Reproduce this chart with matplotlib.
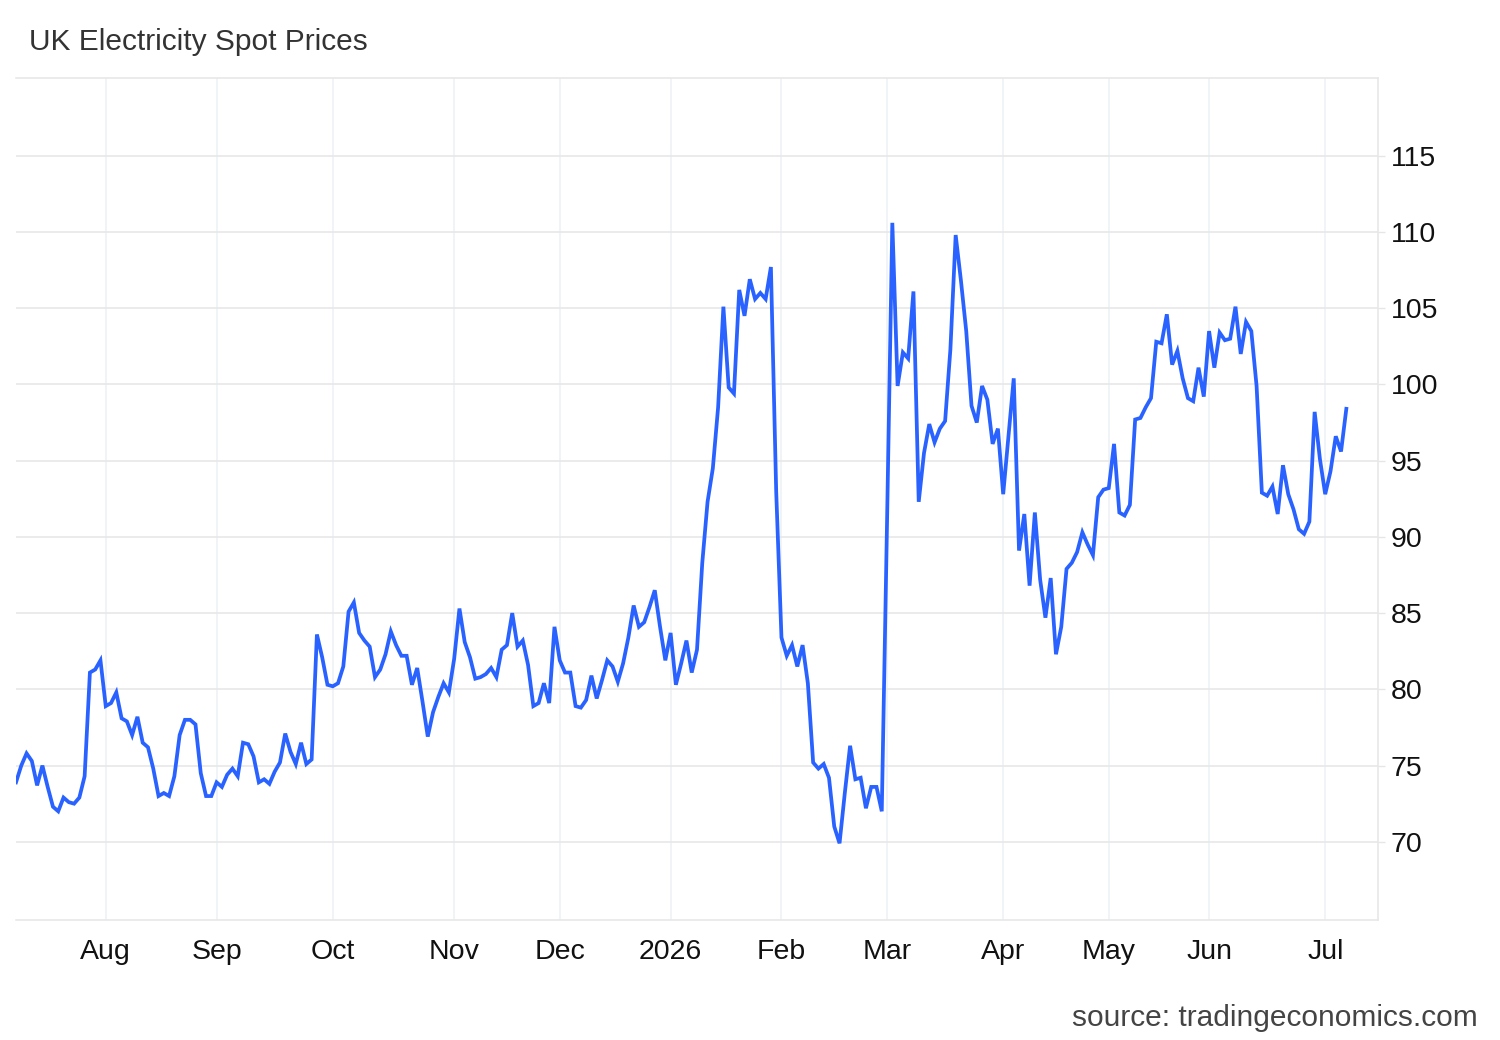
import numpy as np
import matplotlib
matplotlib.use("Agg")
import matplotlib.pyplot as plt

plt.rcParams['font.family'] = ['Liberation Sans', 'DejaVu Sans']

# Daily (trading-day) UK electricity spot prices, grouped by month
jul25 = [73.9, 75.0, 75.8, 75.3, 73.7, 75.0, 73.6, 72.3, 72.0, 72.9, 72.6, 72.5, 72.9, 74.3, 81.1, 81.3, 81.9]
aug25 = [78.9, 79.1, 79.8, 78.1, 77.9, 77.0, 78.2, 76.5, 76.2, 74.8, 73.0, 73.2, 73.0, 74.3, 77.0, 78.0, 78.0,
         77.7, 74.5, 73.0, 73.0]
sep25 = [73.9, 73.6, 74.4, 74.8, 74.3, 76.5, 76.4, 75.6, 73.9, 74.1, 73.8, 74.6, 75.2, 77.1, 75.9, 75.1, 76.5,
         75.1, 75.4, 83.6, 82.1, 80.3]
oct25 = [80.2, 80.4, 81.5, 85.1, 85.7, 83.7, 83.2, 82.8, 80.8, 81.3, 82.3, 83.8, 82.9, 82.2, 82.2, 80.3, 81.4,
         79.2, 76.9, 78.5, 79.5, 80.4, 79.8]
nov25 = [82.0, 85.3, 83.1, 82.1, 80.7, 80.8, 81.0, 81.4, 80.8, 82.6, 82.9, 85.0, 82.8, 83.2, 81.6, 78.9, 79.1,
         80.4, 79.1, 84.1]
dec25 = [81.9, 81.1, 81.1, 78.9, 78.8, 79.3, 80.9, 79.4, 80.6, 81.9, 81.5, 80.5, 81.7, 83.4, 85.5, 84.1, 84.4,
         85.4, 86.5, 84.1, 81.9]
jan26 = [83.7, 80.3, 81.7, 83.2, 81.1, 82.6, 88.3, 92.3, 94.5, 98.5, 105.1, 99.8, 99.4, 106.2, 104.5, 106.9,
         105.6, 106.0, 105.6, 107.7, 93.0]
feb26 = [83.4, 82.2, 82.9, 81.5, 82.9, 80.4, 75.2, 74.8, 75.1, 74.2, 71.0, 69.9, 73.2, 76.3, 74.1, 74.2, 72.2,
         73.6, 73.6, 72.0]
mar26 = [91.0, 110.6, 99.9, 102.1, 101.7, 106.1, 92.3, 95.5, 97.4, 96.2, 97.1, 97.6, 102.3, 109.8, 106.8, 103.5,
         98.6, 97.5, 99.9, 99.0, 96.1, 97.1]
apr26 = [92.8, 96.6, 100.4, 89.1, 91.5, 86.8, 91.6, 87.2, 84.7, 87.3, 82.3, 84.1, 87.9, 88.3, 89.0, 90.3, 89.5,
         88.8, 92.6, 93.1]
may26 = [93.2, 96.1, 91.6, 91.4, 92.1, 97.7, 97.8, 98.5, 99.1, 102.8, 102.7, 104.6, 101.3, 102.2, 100.4, 99.1,
         98.9, 101.1, 99.2]
jun26 = [103.5, 101.1, 103.4, 102.9, 103.0, 105.1, 102.0, 104.1, 103.5, 99.9, 92.9, 92.7, 93.3, 91.5, 94.7, 92.8,
         91.8, 90.5, 90.2, 91.0, 98.2, 95.1]
jul26 = [92.8, 94.3, 96.6, 95.6, 98.4]

months = [jul25, aug25, sep25, oct25, nov25, dec25, jan26, feb26, mar26, apr26, may26, jun26, jul26]
month_labels = ["Aug", "Sep", "Oct", "Nov", "Dec", "2026", "Feb", "Mar", "Apr", "May", "Jun", "Jul"]
y_ticks = [70, 75, 80, 85, 90, 95, 100, 105, 110, 115]

values = np.concatenate([np.asarray(m, dtype=float) for m in months])
x = np.arange(len(values))
month_starts = np.cumsum([len(m) for m in months])[:-1]

W, H = 1500, 1040
fig = plt.figure(figsize=(W / 100, H / 100), dpi=100)
ax = fig.add_axes([16 / W, 1 - 920 / H, (1378 - 16) / W, (920 - 78) / H])

ax.plot(x, values, color="#2962ff", lw=2.7, solid_joinstyle="miter", zorder=3)

ax.set_xlim(0, 258)
ax.set_ylim(64.87, 120.1)

ax.set_yticks(y_ticks)
ax.set_yticklabels([str(v) for v in y_ticks])
ax.yaxis.tick_right()
ax.tick_params(axis="y", which="both", length=5, width=1.0, color="#e6e6e6",
               labelsize=20.5, labelcolor="#111111", pad=4)

ax.set_xticks(month_starts)
ax.set_xticklabels(month_labels)
ax.tick_params(axis="x", length=0, labelsize=20.5, labelcolor="#111111", pad=13.5)

ax.grid(axis="y", color="#e6e6e6", lw=1.1, zorder=0)
ax.grid(axis="x", color="#eef1f5", lw=1.1, zorder=0)

ax.spines["left"].set_visible(False)
for side in ["top", "bottom", "right"]:
    ax.spines[side].set_color("#e6e6e6")
    ax.spines[side].set_linewidth(1.1)

fig.text(29 / W, 1 - 42 / H, "UK Electricity Spot Prices", fontsize=21.5, color="#333333",
         ha="left", va="center")
fig.text(1478 / W, 1 - 1018 / H, "source: tradingeconomics.com", fontsize=21.5, color="#444444",
         ha="right", va="center")

fig.savefig("out.png", dpi=100, facecolor="white")
